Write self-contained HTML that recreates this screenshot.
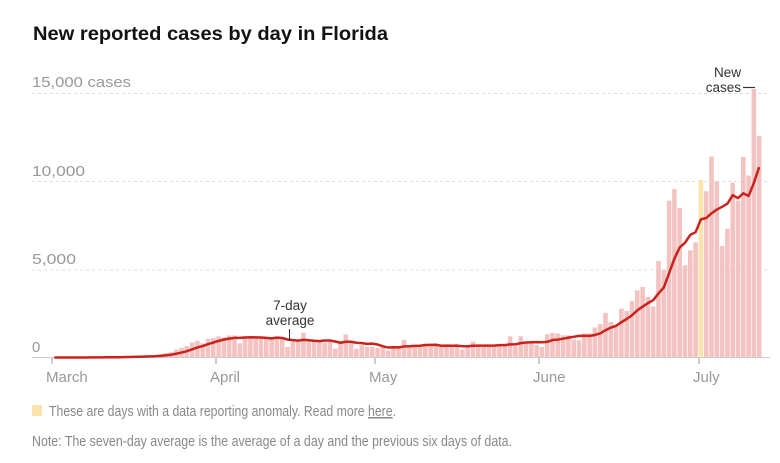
<!DOCTYPE html>
<html><head><meta charset="utf-8"><style>
html,body{margin:0;padding:0;background:#fff;}
svg{display:block;font-family:"Liberation Sans",sans-serif;}
</style></head><body>
<svg id="c" width="780" height="463" viewBox="0 0 780 463" xmlns="http://www.w3.org/2000/svg">
<text x="33" y="40" font-size="19.5" font-weight="bold" fill="#121212" textLength="355" lengthAdjust="spacingAndGlyphs">New reported cases by day in Florida</text>
<g stroke="#ddd" stroke-width="1" stroke-dasharray="3,3">
<line x1="32" y1="93.5" x2="770" y2="93.5"/>
<line x1="32" y1="181.5" x2="770" y2="181.5"/>
<line x1="32" y1="270" x2="770" y2="270"/>
</g>
<g font-size="15" fill="#999">
<text x="32" y="87" textLength="99" lengthAdjust="spacingAndGlyphs">15,000 cases</text>
<text x="32" y="176" textLength="53" lengthAdjust="spacingAndGlyphs">10,000</text>
<text x="32" y="264" textLength="44" lengthAdjust="spacingAndGlyphs">5,000</text>
<text x="32" y="352">0</text>
</g>
<g id="bars"></g>
<line x1="32" y1="357.5" x2="770" y2="357.5" stroke="#ccc"/>
<path id="avg" fill="none" stroke="#c9231d" stroke-width="2.5" stroke-linejoin="round"/>
<g stroke="#999" stroke-width="1">
<line x1="52" y1="358" x2="52" y2="364"/><line x1="216" y1="358" x2="216" y2="364"/>
<line x1="375" y1="358" x2="375" y2="364"/><line x1="539" y1="358" x2="539" y2="364"/>
<line x1="699" y1="358" x2="699" y2="364"/>
</g>
<g font-size="15" fill="#999">
<text x="46" y="382">March</text><text x="210" y="382">April</text>
<text x="369" y="382">May</text><text x="533" y="382">June</text><text x="693" y="382">July</text>
</g>
<g font-size="13.5" fill="#333" text-anchor="middle">
<text x="290" y="310">7-day</text><text x="290" y="325">average</text>
</g>
<line x1="289.5" y1="329" x2="289.5" y2="341" stroke="#333"/>
<g font-size="13.5" fill="#333" text-anchor="end">
<text x="741" y="77">New</text><text x="741" y="92">cases</text>
</g>
<line x1="743" y1="87.5" x2="755" y2="87.5" stroke="#333" stroke-width="1.2"/>
<rect x="32" y="405" width="10" height="11" fill="#fce3ae"/>
<text x="49" y="416" font-size="15" fill="#888" textLength="347" lengthAdjust="spacingAndGlyphs">These are days with a data reporting anomaly. Read more <tspan text-decoration="underline">here</tspan>.</text>
<text x="32" y="446" font-size="15" fill="#888" textLength="480" lengthAdjust="spacingAndGlyphs">Note: The seven-day average is the average of a day and the previous six days of data.</text>
</svg>
<script>
var v=[0,0,2,3,5,6,8,10,10,15,20,25,30,40,50,60,70,80,100,120,180,250,300,450,550,650,850,950,800,1050,
1100,1200,1150,1250,1250,800,1200,1200,1150,1100,1100,1050,1100,1050,600,900,900,1400,900,900,
900,850,900,500,900,1300,900,500,700,600,600,550,600,400,600,650,1000,650,700,650,
700,650,700,600,700,650,700,450,650,900,650,700,650,700,650,650,1200,650,1200,890,830,700,600,
1320,1400,1360,1260,1260,1020,980,1360,1360,1700,1890,2530,2020,1735,2770,2640,3200,3810,4000,3430,2900,5470,4980,8900,9550,8490,5230,6075,6530,10075,9430,11400,10000,6320,7300,9920,8900,11380,10320,15230,12570];
var base=357.5,k=0.01763,ns="http://www.w3.org/2000/svg",g=document.getElementById('bars'),d="";
for(var i=0;i<v.length;i++){var x=52+5.3*i,h=v[i]*k;
 if(h>1.5){var r=document.createElementNS(ns,'rect');r.setAttribute('x',x.toFixed(2));r.setAttribute('y',(base-h).toFixed(2));
 r.setAttribute('width','4.6');r.setAttribute('height',h.toFixed(2));r.setAttribute('fill',i==122?'#fce3ae':'#f2c3c1');g.appendChild(r);}
 var s=0;for(var j=Math.max(0,i-6);j<=i;j++){s+=v[j];}var a=s/7;
 d+=(i?'L':'M')+(x+2.3).toFixed(2)+','+(base-a*k).toFixed(2);}
document.getElementById('avg').setAttribute('d',d);
</script>
</body></html>
